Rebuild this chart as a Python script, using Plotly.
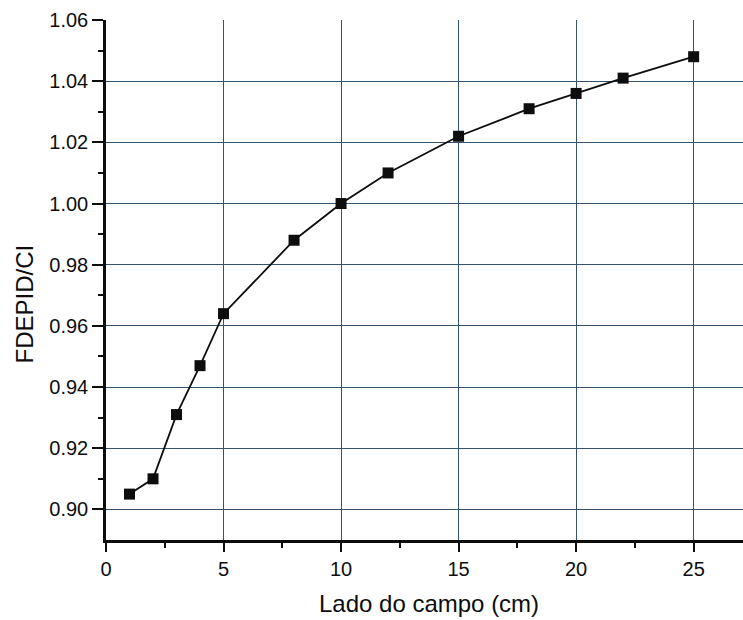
import plotly.graph_objects as go

# Field size (cm) and measured FDEPID/CI ratio
lado_campo = [1, 2, 3, 4, 5, 8, 10, 12, 15, 18, 20, 22, 25]
fdepid_ci = [0.905, 0.910, 0.931, 0.947, 0.964, 0.988, 1.000,
             1.010, 1.022, 1.031, 1.036, 1.041, 1.048]

x_ticks = [0, 5, 10, 15, 20, 25]
y_ticks = [0.90, 0.92, 0.94, 0.96, 0.98, 1.00, 1.02, 1.04, 1.06]

x_title = "Lado do campo (cm)"
y_title = "FDEPID/CI"

FONT = "Liberation Sans, Arial, sans-serif"
INK = "#0d0d0d"
GRID = "#34536f"

fig = go.Figure()
fig.add_trace(go.Scatter(
    x=lado_campo, y=fdepid_ci,
    mode="lines+markers",
    line=dict(color=INK, width=1.8),
    marker=dict(symbol="square", size=11, color=INK, line=dict(width=0)),
    showlegend=False,
))

fig.update_layout(
    width=743, height=620,
    margin=dict(l=106, r=0, t=20, b=80),
    paper_bgcolor="white", plot_bgcolor="white",
    font=dict(family=FONT, color=INK, size=20),
)

fig.update_xaxes(
    range=[0, 27.1],
    tickvals=x_ticks, ticktext=[str(v) for v in x_ticks],
    ticks="outside", ticklen=9, tickwidth=2, tickcolor=INK,
    minor=dict(tickvals=[2.5, 7.5, 12.5, 17.5, 22.5], ticks="outside",
               ticklen=5, tickwidth=1.5, tickcolor=INK, showgrid=False),
    showline=True, linecolor=INK, linewidth=2.5,
    showgrid=True, gridcolor=GRID, gridwidth=1.4,
    zeroline=False,
    tickfont=dict(size=20),
)

fig.update_yaxes(
    range=[0.89, 1.06],
    tickvals=y_ticks, ticktext=[f"{v:.2f}" for v in y_ticks],
    ticks="outside", ticklen=11, tickwidth=2, tickcolor=INK,
    minor=dict(tickvals=[0.91, 0.93, 0.95, 0.97, 0.99, 1.01, 1.03, 1.05],
               ticks="outside", ticklen=5, tickwidth=1.5,
               tickcolor=INK, showgrid=False),
    showline=True, linecolor=INK, linewidth=2.5,
    showgrid=True, gridcolor=GRID, gridwidth=1.4,
    zeroline=False,
    tickfont=dict(size=20),
)

# Axis titles placed as annotations for precise positioning
fig.add_annotation(
    text=x_title, xref="paper", yref="paper",
    x=0.507, y=-0.123, xanchor="center", yanchor="middle",
    showarrow=False, font=dict(size=24, color=INK),
)
fig.add_annotation(
    text=y_title, xref="paper", yref="paper",
    x=-0.128, y=0.454, xanchor="center", yanchor="middle",
    textangle=-90, showarrow=False, font=dict(size=24, color=INK),
)

fig.write_html("out.html")
